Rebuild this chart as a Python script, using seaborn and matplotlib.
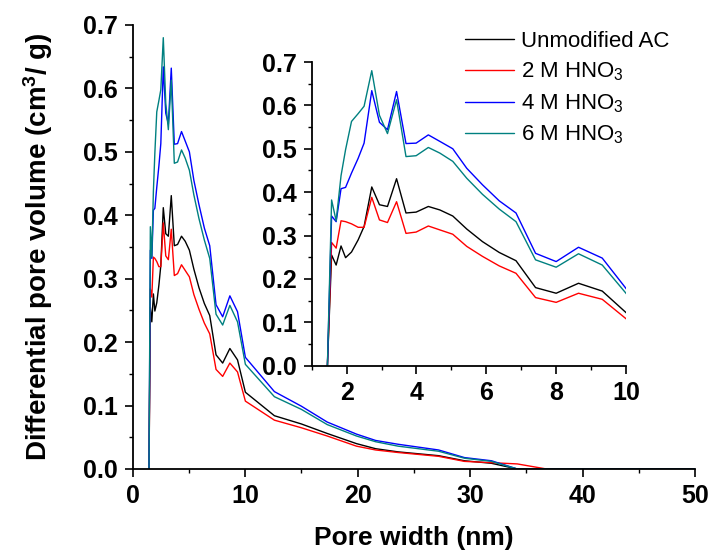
import numpy as np
import pandas as pd
import matplotlib
matplotlib.use("Agg")
import matplotlib.pyplot as plt
from matplotlib.ticker import MultipleLocator, FormatStrFormatter
import seaborn as sns

# ---------------- data ----------------
pore_width = [1.45, 1.57, 1.70, 1.84, 1.97, 2.14, 2.33, 2.50, 2.72, 2.94, 3.17, 3.43,
              3.70, 3.99, 4.34, 4.67, 5.04, 5.44, 5.89, 6.37, 6.85, 7.41, 8.00, 8.64,
              9.32, 10.02, 12.6, 15.0, 17.3, 19.9, 21.6, 23.6, 27.2, 29.5, 31.9, 34.2,
              36.8, 50.0]
unmodified = [0.0, 0.255, 0.232, 0.276, 0.249, 0.262, 0.290, 0.321, 0.412, 0.371, 0.367, 0.431,
              0.352, 0.354, 0.367, 0.359, 0.345, 0.315, 0.286, 0.261, 0.242, 0.180, 0.167, 0.190,
              0.172, 0.121, 0.084, 0.071, 0.056, 0.040, 0.032, 0.027, 0.021, 0.013, 0.009, 0.0,
              0.0, 0.0]
hno3_2m = [0.0, 0.284, 0.271, 0.334, 0.332, 0.327, 0.319, 0.319, 0.388, 0.336, 0.330, 0.378,
           0.305, 0.308, 0.322, 0.313, 0.303, 0.275, 0.252, 0.230, 0.213, 0.157, 0.146, 0.167,
           0.153, 0.107, 0.077, 0.065, 0.052, 0.036, 0.030, 0.026, 0.020, 0.012, 0.010, 0.008,
           0.0, 0.0]
hno3_4m = [0.0, 0.345, 0.332, 0.408, 0.411, 0.444, 0.478, 0.513, 0.634, 0.561, 0.544, 0.632,
           0.512, 0.513, 0.532, 0.517, 0.500, 0.455, 0.417, 0.380, 0.352, 0.259, 0.240, 0.273,
           0.248, 0.176, 0.122, 0.099, 0.074, 0.055, 0.045, 0.039, 0.030, 0.018, 0.013, 0.0,
           0.0, 0.0]
hno3_6m = [0.0, 0.382, 0.334, 0.438, 0.498, 0.563, 0.581, 0.598, 0.680, 0.577, 0.535, 0.613,
           0.482, 0.484, 0.503, 0.490, 0.471, 0.432, 0.395, 0.361, 0.332, 0.244, 0.227, 0.258,
           0.232, 0.165, 0.114, 0.094, 0.070, 0.052, 0.043, 0.036, 0.028, 0.017, 0.012, 0.0,
           0.0, 0.0]
series_labels = ["Unmodified AC", r"2 M HNO$_3$", r"4 M HNO$_3$", r"6 M HNO$_3$"]
series_colors = ["#000000", "#ff0000", "#0000ff", "#008080"]
main_xticks = [0, 10, 20, 30, 40, 50]
inset_xticks = [2, 4, 6, 8, 10]

frames = []
for lab, vals in zip(series_labels, [unmodified, hno3_2m, hno3_4m, hno3_6m]):
    frames.append(pd.DataFrame({"x": pore_width, "y": vals, "sample": lab}))
df = pd.concat(frames, ignore_index=True)
palette = dict(zip(series_labels, series_colors))

# ---------------- style ----------------
sns.set_style("ticks")
plt.rcParams["font.family"] = ["Liberation Sans", "DejaVu Sans"]
plt.rcParams["mathtext.fontset"] = "custom"
plt.rcParams["mathtext.rm"] = "Liberation Sans"
plt.rcParams["mathtext.it"] = "Liberation Sans"
plt.rcParams["mathtext.bf"] = "Liberation Sans:bold"
for k in ["text.color", "axes.labelcolor", "xtick.color", "ytick.color", "axes.edgecolor"]:
    plt.rcParams[k] = "black"

fig = plt.figure(figsize=(7.10, 5.59), dpi=100)
ax = fig.add_axes([132.7 / 710, (559 - 469) / 559, (695 - 132.7) / 710, (469 - 25) / 559])
axin = fig.add_axes([311.7 / 710, (559 - 365.7) / 559, (626 - 311.7) / 710, (365.7 - 62) / 559])

for a, leg in [(ax, False), (axin, True)]:
    sns.lineplot(data=df, x="x", y="y", hue="sample", palette=palette, sort=False,
                 estimator=None, linewidth=1.0, ax=a, legend=leg)
    for side in ["top", "right"]:
        a.spines[side].set_visible(False)
    for side in ["left", "bottom"]:
        a.spines[side].set_linewidth(1.3)
        a.spines[side].set_color("black")
    a.set_ylim(0, 0.7)
    a.yaxis.set_major_locator(MultipleLocator(0.1))
    a.yaxis.set_minor_locator(MultipleLocator(0.05))
    a.yaxis.set_major_formatter(FormatStrFormatter("%.1f"))
    a.tick_params(which="major", direction="out", length=6, width=1.2, color="black",
                  labelcolor="black", labelsize=18, pad=5)
    a.tick_params(which="minor", direction="out", length=3, width=1.0, color="black")
    a.set_xlabel("")
    a.set_ylabel("")

ax.set_xlim(0, 50)
ax.set_xticks(main_xticks)
ax.xaxis.set_minor_locator(MultipleLocator(5))
ax.set_xlabel("Pore width (nm)", fontsize=19, fontweight="bold", labelpad=13)
ax.set_ylabel(r"Differential pore volume (cm$\mathbf{^3}$/ g)", fontsize=20,
              fontweight="bold", labelpad=20)

axin.set_xlim(1, 10)
axin.set_xticks(inset_xticks)
axin.xaxis.set_minor_locator(MultipleLocator(1))
axin.patch.set_alpha(0)

for a in (ax, axin):
    for t in a.get_xticklabels() + a.get_yticklabels():
        t.set_fontweight("bold")

handles, labels = axin.get_legend_handles_labels()
axin.legend(handles, labels, loc="upper left", bbox_to_anchor=(465 / 710, (559 - 31) / 559),
            bbox_transform=fig.transFigure, frameon=False, fontsize=16, handlelength=2.2,
            handletextpad=0.3, borderpad=0, borderaxespad=0, labelspacing=0.4)
for line in axin.get_legend().get_lines():
    line.set_linewidth(1.0)

fig.savefig("out.png", dpi=100)
